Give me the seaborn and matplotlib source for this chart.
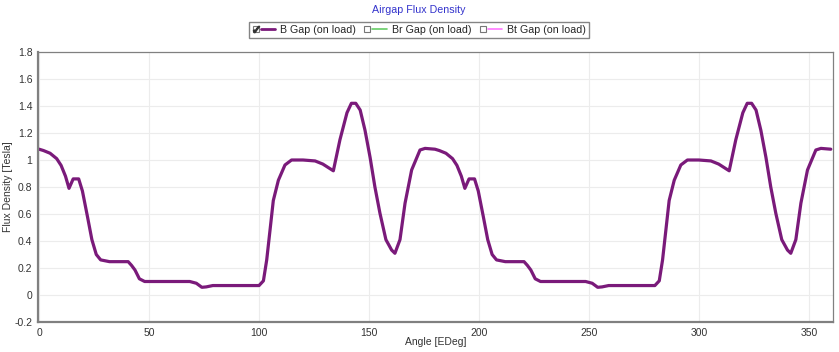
import matplotlib
matplotlib.use("Agg")
import matplotlib.pyplot as plt
from matplotlib.lines import Line2D
from matplotlib.legend_handler import HandlerTuple
import seaborn as sns
import pandas as pd

angle_deg = [0, 2, 5, 8, 10, 12, 13.6, 15.5, 18, 19.7, 22, 24, 26, 28, 32, 40.5, 42, 43.6, 45.6, 48,
             68.5, 71.5, 74, 76, 79, 100, 102, 103.5, 105, 106.5, 108.8, 111.8, 114.8, 120, 125.5,
             129, 133.8, 136.8, 140, 142, 144, 146, 148.2, 150.5, 152.7, 155, 157.7, 160.3, 161.8,
             164.1, 166.4, 169.4, 173.2, 175.5,
             180, 182, 185, 188, 190, 192, 193.6, 195.5, 198, 199.7, 202, 204, 206, 208, 212, 220.5,
             222, 223.6, 225.6, 228, 248.5, 251.5, 254, 256, 259, 280, 282, 283.5, 285, 286.5, 288.8,
             291.8, 294.8, 300, 305.5, 309, 313.8, 316.8, 320, 322, 324, 326, 328.2, 330.5, 332.7,
             335, 337.7, 340.3, 341.8, 344.1, 346.4, 349.4, 353.2, 355.5, 360]
b_gap = [1.08, 1.07, 1.05, 1.01, 0.96, 0.88, 0.79, 0.86, 0.86, 0.77, 0.58, 0.41, 0.30, 0.26, 0.247,
         0.247, 0.22, 0.185, 0.12, 0.10, 0.10, 0.087, 0.057, 0.06, 0.07, 0.07, 0.105, 0.26, 0.48,
         0.70, 0.85, 0.963, 1.0, 1.0, 0.993, 0.97, 0.92, 1.15, 1.35, 1.42, 1.42, 1.37, 1.22, 1.02,
         0.80, 0.605, 0.41, 0.333, 0.309, 0.41, 0.68, 0.926, 1.074, 1.086,
         1.08, 1.07, 1.05, 1.01, 0.96, 0.88, 0.79, 0.86, 0.86, 0.77, 0.58, 0.41, 0.30, 0.26, 0.247,
         0.247, 0.22, 0.185, 0.12, 0.10, 0.10, 0.087, 0.057, 0.06, 0.07, 0.07, 0.105, 0.26, 0.48,
         0.70, 0.85, 0.963, 1.0, 1.0, 0.993, 0.97, 0.92, 1.15, 1.35, 1.42, 1.42, 1.37, 1.22, 1.02,
         0.80, 0.605, 0.41, 0.333, 0.309, 0.41, 0.68, 0.926, 1.074, 1.086, 1.08]

series_names = ["B Gap (on load)", "Br Gap (on load)", "Bt Gap (on load)"]
series_colors = ["#7a1a7a", "#66cc66", "#ff77ff"]
x_ticks = [0, 50, 100, 150, 200, 250, 300, 350]
y_ticks = [-0.2, 0, 0.2, 0.4, 0.6, 0.8, 1, 1.2, 1.4, 1.6, 1.8]
y_tick_labels = ["-0.2", "0", "0.2", "0.4", "0.6", "0.8", "1", "1.2", "1.4", "1.6", "1.8"]

sns.set_theme(style="whitegrid")
plt.rcParams["font.family"] = ["Liberation Sans", "DejaVu Sans"]
plt.rcParams["mathtext.fontset"] = "dejavusans"

df = pd.DataFrame({"Angle": angle_deg, "B": b_gap})

fig = plt.figure(figsize=(8.39, 3.52), dpi=100)
ax = fig.add_axes([38 / 839, 1 - 322 / 352, (833 - 38) / 839, (322 - 52) / 352])
sns.lineplot(data=df, x="Angle", y="B", ax=ax, color=series_colors[0], linewidth=2.3,
             sort=False, estimator=None)

ax.set_xlim(-0.5, 361)
ax.set_ylim(-0.2, 1.8)
ax.set_xticks(x_ticks)
ax.set_yticks(y_ticks)
ax.set_yticklabels(y_tick_labels)
ax.tick_params(axis="both", length=0, labelsize=7.5, colors="#333333", pad=4)
ax.grid(True, color="#ececec", linewidth=0.8)
for side, sp in ax.spines.items():
    sp.set_visible(True)
    sp.set_color("#808080")
    sp.set_linewidth(1.6 if side in ("left", "bottom") else 0.9)
ax.set_xlabel("Angle [EDeg]", fontsize=7.5, color="#333333")
ax.set_ylabel("Flux Density [Tesla]", fontsize=7.5, color="#333333")
ax.xaxis.set_label_coords(0.5, -0.056)
ax.yaxis.set_label_coords(-0.031, 0.5)

fig.text(0.4995, 1 - 10 / 352, "Airgap Flux Density", ha="center", va="center",
         fontsize=7.7, color="#3333cc")

handles = []
for i, c in enumerate(series_colors):
    box = Line2D([], [], linestyle="none", marker="s", markersize=5,
                 markerfacecolor="white", markeredgecolor="#777777", markeredgewidth=0.8)
    if i == 0:
        tick = Line2D([], [], linestyle="none", marker="$\u2713$", markersize=4.5,
                      color="#333333")
        box = (box, tick)
    ln = Line2D([], [], color=c, linewidth=2.0 if i == 0 else 1.2)
    handles.append((box, ln))


class BoxLineHandler(HandlerTuple):
    def create_artists(self, legend, orig_handle, xdescent, ydescent, width, height,
                       fontsize, trans):
        box, ln = orig_handle
        artists = []
        boxes = box if isinstance(box, tuple) else (box,)
        for b in boxes:
            h = legend.get_legend_handler(legend.get_legend_handler_map(), b)
            artists += h.create_artists(legend, b, xdescent, ydescent,
                                        width * 0.3, height, fontsize, trans)
        h = legend.get_legend_handler(legend.get_legend_handler_map(), ln)
        artists += h.create_artists(legend, ln, xdescent - width * 0.36, ydescent,
                                    width * 0.64, height, fontsize, trans)
        return artists


leg = fig.legend(handles, series_names, loc="center", bbox_to_anchor=(0.4995, 1 - 30 / 352),
                 ncol=3, frameon=True, fontsize=7.7, handlelength=2.15, handletextpad=0.45,
                 columnspacing=0.75, borderpad=0.3, borderaxespad=0, fancybox=False,
                 handler_map={tuple: BoxLineHandler()})
leg.get_frame().set_edgecolor("#666666")
leg.get_frame().set_linewidth(1.0)

fig.savefig("out.png", dpi=100)
